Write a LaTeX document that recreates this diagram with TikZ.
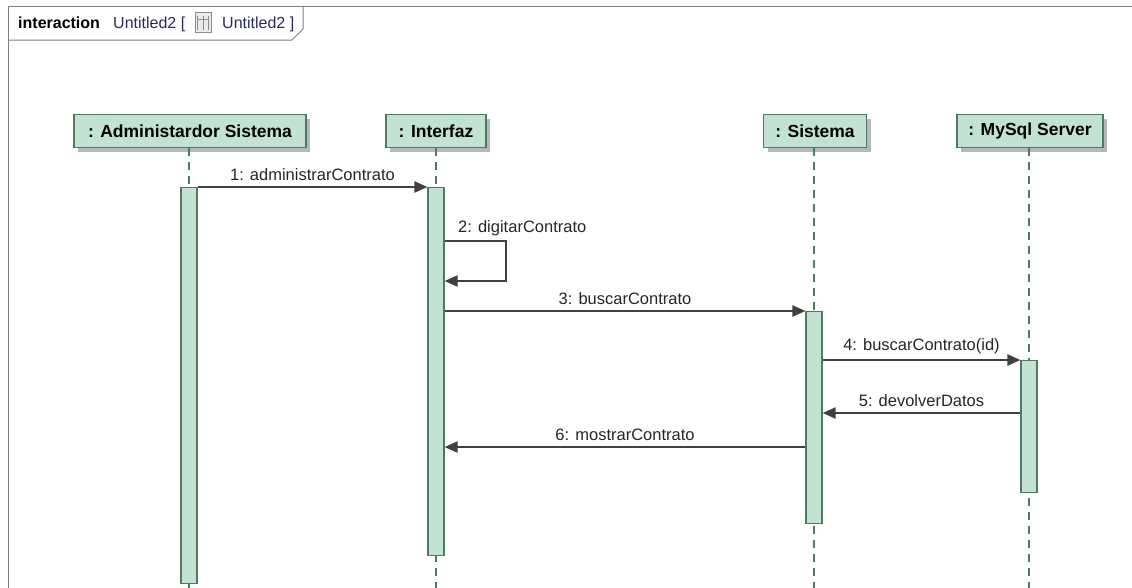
\documentclass[tikz,border=0pt]{standalone}
\usepackage{fontspec}
\setmainfont{Liberation Sans}
\usetikzlibrary{arrows.meta,calc}
\definecolor{headfill}{HTML}{C2E3D2}
\definecolor{headdraw}{HTML}{4D7A64}
\definecolor{msgcol}{HTML}{404040}
\definecolor{framecol}{HTML}{808080}
\definecolor{shadowcol}{HTML}{B8B8B8}
\definecolor{tabblue}{HTML}{2A2A5A}
\tikzset{
  head/.style={draw=headdraw, fill=headfill, line width=1.2pt, inner sep=0pt,
    minimum height=33pt, font=\fontsize{17.5}{20}\selectfont\bfseries,
    text=black},
  bar/.style={draw=headdraw, fill=headfill, line width=1.1pt, inner sep=0pt, minimum width=16pt},
  life/.style={draw=headdraw, line width=1.1pt, dash pattern=on 8pt off 6pt},
  msg/.style={draw=msgcol, line width=2pt, -{Triangle[length=13pt,width=11pt]}},
  lbl/.style={font=\fontsize{16.5}{19}\selectfont, text=black!85, inner sep=0pt},
  tabtxt/.style={font=\fontsize{16}{19}\selectfont, inner sep=0pt, anchor=base west},
}
\begin{document}
\begin{tikzpicture}[x=1pt,y=-1pt]
\useasboundingbox (0,0) rectangle (1132,587);
% frame
\draw[framecol, line width=1pt] (8,600) -- (8,6) -- (1140,6);
\draw[framecol, line width=1pt] (8,40) -- (292,40) -- (303,29) -- (303,6);
\node[tabtxt, font=\fontsize{16}{19}\selectfont\bfseries] (t1) at (18,28) {interaction};
\node[tabtxt, text=tabblue] (t2) at (113,28) {Untitled2 [};
\node[tabtxt, text=tabblue] (t3) at (222,28) {Untitled2 ]};
% icon
\node[draw=black!45, fill=black!8, minimum width=16pt, minimum height=20pt, inner sep=0pt, line width=0.8pt] (icon) at (203,22) {};
\draw[black!45, line width=0.6pt] ($(icon.north west)+(3,4)$) -- ($(icon.south west)+(3,-2)$);
\draw[black!45, line width=0.6pt] ($(icon.north east)+(-3,4)$) -- ($(icon.south east)+(-3,-2)$);
\draw[black!45, line width=0.6pt] ($(icon.north)+(0,4)$) -- ($(icon.south)+(0,-2)$);
\draw[black!45, line width=0.6pt] ($(icon.north west)+(3,8)$) -- ($(icon.north east)+(-3,8)$);
% head shadows
\fill[shadowcol] (78,119) rectangle (310,152);
\fill[shadowcol] (390,119) rectangle (490,152);
\fill[shadowcol] (768,119) rectangle (871,152);
\fill[shadowcol] (961,119) rectangle (1107,152);
% heads
\node[head, minimum width=232pt] (hA) at (190,131) {: Administardor Sistema};
\node[head, minimum width=100pt] (hI) at (436,131) {: Interfaz};
\node[head, minimum width=103pt] (hS) at (815,131) {: Sistema};
\node[head, minimum width=146pt] (hM) at (1030,131) {: MySql Server};
% lifeline ends
\coordinate (eA) at (189,590);
\coordinate (eI) at (436,590);
\coordinate (eS) at (814,590);
\coordinate (eM) at (1029,590);
\draw[life] (hA.south -| eA) -- (eA);
\draw[life] (hI.south -| eI) -- (eI);
\draw[life] (hS.south -| eS) -- (eS);
\draw[life] (hM.south -| eM) -- (eM);
% activation bars
\node[bar, minimum height=396pt, anchor=north] (bA) at (189,187) {};
\node[bar, minimum height=368pt, anchor=north] (bI) at (436,187) {};
\node[bar, minimum height=212pt, anchor=north] (bS) at (814,311) {};
\node[bar, minimum height=132pt, anchor=north] (bM) at (1029,360) {};
% message y levels
\coordinate (y2a) at (0,241);
\coordinate (y2b) at (0,281);
\coordinate (y5) at (0,413);
\coordinate (y6) at (0,447);
% messages
\draw[msg] (bA.north east) -- node[lbl, above=5pt] (m1) {1: administrarContrato} (bI.north west);
\draw[msg] (bI.east |- y2a) -- ++(61,0) |- (bI.east |- y2b);
\node[lbl, anchor=west] (m2) at (458,228) {2: digitarContrato};
\draw[msg] (bI.east |- bS.north) -- node[lbl, above=5pt] (m3) {3: buscarContrato} (bS.north west);
\draw[msg] (bS.east |- bM.north) -- node[lbl, above=5pt] (m4) {4: buscarContrato(id)} (bM.north west);
\draw[msg] (bM.west |- y5) -- node[lbl, above=5pt] (m5) {5: devolverDatos} (bS.east |- y5);
\draw[msg] (bS.west |- y6) -- node[lbl, above=5pt] (m6) {6: mostrarContrato} (bI.east |- y6);
\end{tikzpicture}
\end{document}
